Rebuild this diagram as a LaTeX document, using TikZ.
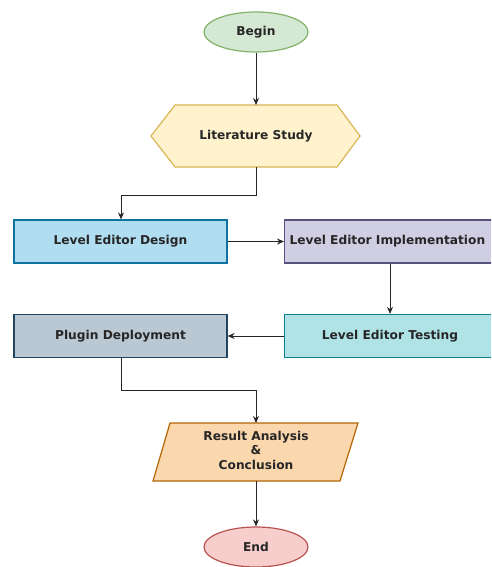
\documentclass[tikz,border=0pt]{standalone}
\usepackage{fontspec}
\setmainfont{DejaVu Sans}
\usetikzlibrary{shapes.geometric,arrows.meta}
\definecolor{beginF}{HTML}{D5E8D4}\definecolor{beginD}{HTML}{82B366}
\definecolor{hexF}{HTML}{FFF2CC}\definecolor{hexD}{HTML}{D6B656}
\definecolor{desF}{HTML}{B1DDF0}\definecolor{desD}{HTML}{10739E}
\definecolor{impF}{HTML}{D0CEE2}\definecolor{impD}{HTML}{56517E}
\definecolor{plgF}{HTML}{BAC8D3}\definecolor{plgD}{HTML}{23445D}
\definecolor{tstF}{HTML}{B0E3E6}\definecolor{tstD}{HTML}{0E8088}
\definecolor{resF}{HTML}{FAD7AC}\definecolor{resD}{HTML}{B46504}
\definecolor{endF}{HTML}{F8CECC}\definecolor{endD}{HTML}{B85450}
\tikzset{
  lbl/.style={font=\bfseries\fontsize{12.2}{14.5}\selectfont, text=black!85, align=center},
  oval/.style={ellipse, lbl, minimum width=104pt, minimum height=40pt, inner sep=0pt, line width=1.2pt},
  boxnode/.style={rectangle, lbl, minimum width=213pt, minimum height=43pt, inner sep=0pt, line width=1.2pt},
  conn/.style={line width=0.9pt, draw=black!85, -{Stealth[length=7pt,width=6pt]}},
}
\begin{document}
\begin{tikzpicture}[x=1pt,y=-1pt]
\useasboundingbox (0,0) rectangle (491,567);
\clip (0,0) rectangle (491,567);
\node[oval, fill=beginF, draw=beginD] (begin) at (256,32) {Begin};
\draw[draw=hexD, fill=hexF, line width=1.2pt] (151,136) -- (175,105) -- (337,105) -- (360,136) -- (337,167) -- (175,167) -- cycle;
\node[lbl] (lit) at (256,136) {Literature Study};
\node[boxnode, fill=desF, draw=desD] (des) at (120.5,241.5) {Level Editor Design};
\node[boxnode, fill=impF, draw=impD, anchor=west] (imp) at (284,241.5) {};
\node[lbl, anchor=west] (impt) at (286,241.5) {Level Editor Implementation};
\node[boxnode, fill=tstF, draw=tstD, anchor=west] (tst) at (284,336) {};
\node[lbl] (tstt) at (390,336) {Level Editor Testing};
\node[boxnode, fill=plgF, draw=plgD] (plg) at (120.5,336) {Plugin Deployment};
\draw[draw=resD, fill=resF, line width=1.2pt] (170,423) -- (358,423) -- (340,481) -- (153,481) -- cycle;
\coordinate (restop) at (256,423);
\coordinate (resbot) at (256,481);
\node[lbl] (res) at (256,450) {Result Analysis\\\&\\Conclusion};
\node[oval, fill=endF, draw=endD] (end) at (256,547) {End};
\coordinate (hexbot) at (256,167);
\coordinate (hextop) at (256,105);
\coordinate (k1) at (256,195);
\coordinate (k2) at (121,195);
\coordinate (k3) at (121,390);
\coordinate (k4) at (256,390);
\draw[conn] (begin) -- (hextop);
\draw[conn] (hexbot) -- (k1) -- (k2) -- (des.north -| k2);
\draw[conn] (des.east) -- (imp.west);
\draw[conn] (imp.south -| tstt) -- (tst.north -| tstt);
\draw[conn] (tst.west) -- (plg.east);
\draw[conn] (plg.south -| k3) -- (k3) -- (k4) -- (restop);
\draw[conn] (resbot) -- (end);
\end{tikzpicture}
\end{document}
